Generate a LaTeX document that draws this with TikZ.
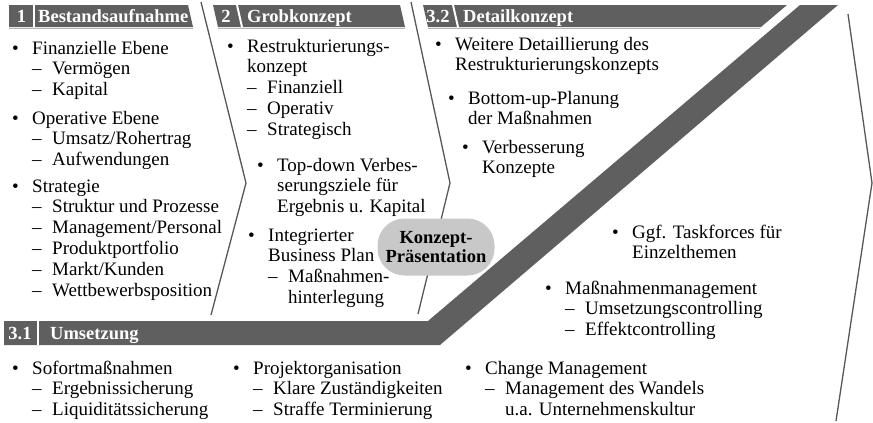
\documentclass[tikz,border=0pt]{standalone}
\usepackage{fontspec}
\setmainfont{Liberation Serif}
\usepackage{tikz}
\definecolor{bargrey}{HTML}{5F5F5F}
\definecolor{rulegrey}{HTML}{575757}
\definecolor{bevel}{HTML}{B4B4B4}
\definecolor{pillgrey}{HTML}{C8C8C8}
\tikzset{
  phasebar/.style={fill=bargrey, draw=none},
  barcut/.style={draw=white, line width=2pt},
  barshade/.style={draw=bevel, line width=1pt},
  chevron/.style={draw=rulegrey, line width=1.3pt, line join=miter},
  bartext/.style={text=white, inner sep=0pt, font=\bfseries\fontsize{18.5}{20}\selectfont},
  entry/.style={anchor=base west, inner sep=0pt, font=\fontsize{19}{20.8}\selectfont},
  pill/.style={fill=pillgrey, rounded corners=27pt, minimum width=117pt, minimum height=57pt,
    align=center, inner sep=0pt, font=\bfseries\fontsize{18.5}{19.5}\selectfont}
}
\newcommand{\bul}{\makebox[20pt][l]{\textbullet}}
\newcommand{\dsh}{\hspace*{20pt}\makebox[20pt][l]{--}}
\newcommand{\ind}{\hspace*{20pt}}
\newcommand{\lst}[1]{\begin{tabular}[t]{@{}l@{}}#1\end{tabular}}

\begin{document}
\begin{tikzpicture}[x=1pt, y=-1pt]
  \useasboundingbox (0,0) rectangle (873,423);

  \fill[phasebar] (9,5) -- (188,5) -- (193,27) -- (9,27) -- cycle;
  \fill[phasebar] (213,5) -- (400,5) -- (405,27) -- (218,27) -- cycle;
  \fill[phasebar] (423,5) -- (787,5) -- (761,27) -- (428,27) -- cycle;
  \fill[phasebar] (4,321) -- (428,321) -- (800,5) -- (838,5) -- (440,345) -- (4,345) -- cycle;
  \draw[barshade] (9,28) -- (193,28);
  \draw[barshade] (218,28) -- (405,28);
  \draw[barshade] (428,28) -- (760,28);
  \draw[barcut] (34,5) -- (34,27);
  \draw[barcut] (237,5) -- (242,27);
  \draw[barcut] (453,5) -- (458,27);
  \draw[barcut] (38,321) -- (38,345);

  \node[bartext, anchor=base] (num1) at (21.5,22) {1};
  \node[bartext, anchor=base west] (head1) at (38,22) {Bestandsaufnahme};
  \node[bartext, anchor=base] (num2) at (226,22) {2};
  \node[bartext, anchor=base west] (head2) at (247,22) {Grobkonzept};
  \node[bartext, anchor=base] (num32) at (438,22) {3.2};
  \node[bartext, anchor=base west] (head32) at (463,22) {Detailkonzept};
  \node[bartext, anchor=base] (num31) at (20,339) {3.1};
  \node[bartext, anchor=base west] (head31) at (50,339) {Umsetzung};

  \draw[chevron] (201,2) -- (246,183) -- (211,315);
  \draw[chevron] (411,2) -- (450,183) -- (418,314);
  \draw[chevron] (848,14) -- (872,183) -- (836,421);

  \node[entry] (fin) at (12,54) {\lst{\bul Finanzielle Ebene\\ \dsh Vermögen\\ \dsh Kapital}};
  \node[entry] (oper) at (12,124) {\lst{\bul Operative Ebene\\ \dsh Umsatz/Rohertrag\\ \dsh Aufwendungen}};
  \node[entry] (strat) at (12,192) {\lst{\bul Strategie\\ \dsh Struktur und Prozesse\\
    \dsh Management/Personal\\ \dsh Produktportfolio\\ \dsh Markt/Kunden\\ \dsh Wettbewerbsposition}};

  \node[entry] (restr) at (227,52) {\lst{\bul Restrukturierungs-\\ \ind konzept\\
    \dsh Finanziell\\ \dsh Operativ\\ \dsh Strategisch}};
  \node[entry] (topdown) at (257,171) {\lst{\bul Top-down Verbes-\\ \ind serungsziele für\\ \ind Ergebnis u. Kapital}};
  \node[entry] (bplan) at (248,241) {\lst{\bul Integrierter\\ \ind Business Plan\\ \dsh Maßnahmen-\\ \ind\ind hinterlegung}};

  \node[entry] (detail) at (435,50) {\lst{\bul Weitere Detaillierung des\\ \ind Restrukturierungskonzepts}};
  \node[entry] (bottomup) at (448,104) {\lst{\bul Bottom-up-Planung\\ \ind der Maßnahmen}};
  \node[entry] (verb) at (462,153) {\lst{\bul Verbesserung\\ \ind Konzepte}};

  \node[entry] (task) at (612,238) {\lst{\bul Ggf. Taskforces für\\ \ind Einzelthemen}};
  \node[entry] (massn) at (545,294) {\lst{\bul Maßnahmenmanagement\\ \dsh Umsetzungscontrolling\\ \dsh Effektcontrolling}};

  \node[entry] (sofort) at (12,374) {\lst{\bul Sofortmaßnahmen\\ \dsh Ergebnissicherung\\ \dsh Liquiditätssicherung}};
  \node[entry] (projekt) at (233,374) {\lst{\bul Projektorganisation\\ \dsh Klare Zuständigkeiten\\ \dsh Straffe Terminierung}};
  \node[entry] (change) at (465,374) {\lst{\bul Change Management\\ \dsh Management des Wandels\\ \ind\ind u.a. Unternehmenskultur}};

  \node[pill] (konzept) at (436,247) {Konzept-\\Präsentation};
\end{tikzpicture}
\end{document}
